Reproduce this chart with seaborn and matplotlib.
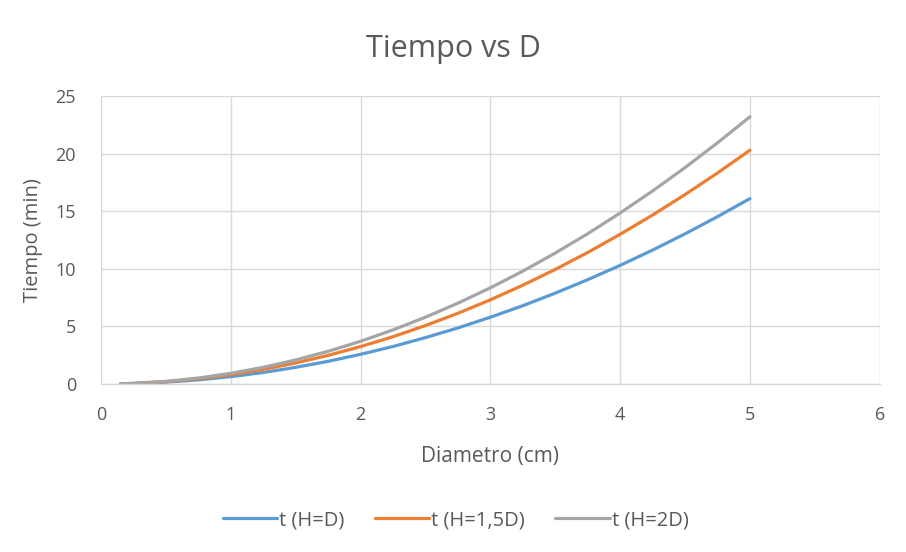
import matplotlib
matplotlib.use("Agg")
import matplotlib.pyplot as plt
import seaborn as sns
import pandas as pd

diametro = [0.15, 0.25, 0.5, 0.75, 1.0, 1.25, 1.5, 1.75, 2.0, 2.25, 2.5,
            2.75, 3.0, 3.25, 3.5, 3.75, 4.0, 4.25, 4.5, 4.75, 5.0]
t_hd = [0.015, 0.04, 0.16, 0.36, 0.64, 1.0, 1.45, 1.97, 2.58, 3.26, 4.03,
        4.87, 5.8, 6.8, 7.89, 9.06, 10.3, 11.63, 13.04, 14.53, 16.1]
t_h15d = [0.018, 0.05, 0.2, 0.46, 0.81, 1.27, 1.83, 2.49, 3.25, 4.11, 5.08,
          6.14, 7.31, 8.58, 9.95, 11.42, 13.0, 14.67, 16.45, 18.32, 20.3]
t_h2d = [0.02, 0.06, 0.23, 0.52, 0.93, 1.45, 2.09, 2.84, 3.71, 4.7, 5.8,
         7.02, 8.35, 9.8, 11.37, 13.05, 14.85, 16.76, 18.79, 20.94, 23.2]
series_names = ["t (H=D)", "t (H=1,5D)", "t (H=2D)"]
colors = ["#5B9BD5", "#ED7D31", "#A5A5A5"]
x_ticks = [0, 1, 2, 3, 4, 5, 6]
y_ticks = [0, 5, 10, 15, 20, 25]

rows = []
for name, vals in zip(series_names, [t_hd, t_h15d, t_h2d]):
    for d, v in zip(diametro, vals):
        rows.append({"Diametro": d, "Tiempo": v, "Serie": name})
df = pd.DataFrame(rows)

sns.set_theme(style="white")
plt.rcParams["font.family"] = ["Open Sans", "DejaVu Sans"]

fig = plt.figure(figsize=(9.06, 5.52), dpi=100)
ax = fig.add_axes([0.1115, 0.3043, 0.8595, 0.5217])

sns.lineplot(data=df, x="Diametro", y="Tiempo", hue="Serie",
             hue_order=series_names, palette=colors, linewidth=2.3,
             ax=ax, legend=True)

ax.set_xlim(0, 6)
ax.set_ylim(0, 25)
ax.set_xticks(x_ticks)
ax.set_yticks(y_ticks)
ax.grid(True, color="#D9D9D9", linewidth=1)
ax.set_axisbelow(True)
for s in ["top", "right", "left"]:
    ax.spines[s].set_visible(False)
ax.spines["bottom"].set_color("#D9D9D9")
ax.spines["bottom"].set_linewidth(1)
ax.tick_params(axis="both", length=0, labelsize=13, labelcolor="#595959")
ax.tick_params(axis="x", pad=16)
ax.tick_params(axis="y", pad=18)
ax.set_xlabel("Diametro (cm)", fontsize=15, color="#595959", labelpad=16)
ax.set_ylabel("Tiempo (min)", fontsize=14.5, color="#595959", labelpad=9)

fig.text(0.5, 0.912, "Tiempo vs D", ha="center", va="center",
         fontsize=22, color="#595959")

handles, labels = ax.get_legend_handles_labels()
ax.legend(handles, labels, loc="center", bbox_to_anchor=(0.503, 0.057),
          bbox_transform=fig.transFigure, ncol=3, frameon=False,
          fontsize=14.5, labelcolor="#595959", handlelength=2.7,
          handletextpad=0.1, columnspacing=1.5)

fig.savefig("out.png", dpi=100)
